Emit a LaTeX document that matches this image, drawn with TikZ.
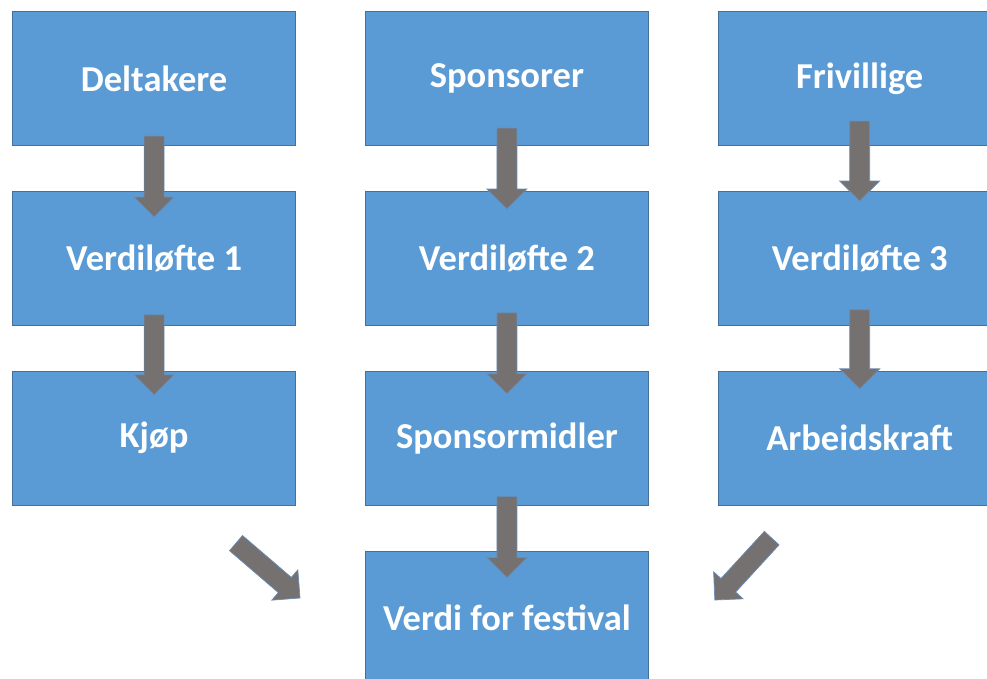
\documentclass[tikz,border=0pt]{standalone}
\usepackage{fontspec}
\setmainfont{Carlito}
\usetikzlibrary{matrix,calc}
\definecolor{boksblaa}{HTML}{5B9BD5}
\definecolor{bokskant}{HTML}{41719C}
\definecolor{pilgraa}{HTML}{767171}
\definecolor{pilkant}{HTML}{6A8DB5}
\tikzset{boks/.style={fill=boksblaa,draw=bokskant,line width=0.8pt,text=white,
        font=\bfseries\fontsize{36.5}{42}\selectfont,anchor=center,
        minimum width=283pt,minimum height=134pt,inner sep=0pt}}
\newcommand{\blokkpil}[2]{%
    \path (#1) coordinate (pil-a) (#2) coordinate (pil-b);
    \path ($(pil-b)!20pt!(pil-a)$) coordinate (pil-h);
    \filldraw[fill=pilgraa,draw=pilkant,line width=0.7pt,line join=miter]
        ($(pil-a)!10pt!90:(pil-b)$) -- ($(pil-h)!10pt!90:(pil-b)$) -- ($(pil-h)!20pt!90:(pil-b)$)
        -- (pil-b) -- ($(pil-h)!20pt!-90:(pil-b)$) -- ($(pil-h)!10pt!-90:(pil-b)$)
        -- ($(pil-a)!10pt!-90:(pil-b)$) -- cycle;
}
\begin{document}
\begin{tikzpicture}
            \useasboundingbox (0,0) rectangle (987pt,-678pt);
            \matrix (m) [matrix of nodes,nodes={boks},row sep=45pt,column sep=69pt,
                         inner sep=0pt,anchor=north west] at (12pt,-11pt)
            {
             Deltakere      &   Sponsorer            &   Frivillige     \\
             Verdiløfte 1   &   Verdiløfte 2         &   Verdiløfte 3   \\
             Kjøp           &   Sponsormidler        &   Arbeidskraft   \\
                            &   Verdi for festival   &                  \\
              };
            \blokkpil{$(m-1-1.south)+(0,10pt)$}{$(m-2-1.north)+(0,-26pt)$}
            \blokkpil{$(m-1-2.south)+(0,18pt)$}{$(m-2-2.north)+(0,-18pt)$}
            \blokkpil{$(m-1-3.south)+(0,25pt)$}{$(m-2-3.north)+(0,-10pt)$}
            \blokkpil{$(m-2-1.south)+(0,11pt)$}{$(m-3-1.north)+(0,-24pt)$}
            \blokkpil{$(m-2-2.south)+(0,13pt)$}{$(m-3-2.north)+(0,-23pt)$}
            \blokkpil{$(m-2-3.south)+(0,16pt)$}{$(m-3-3.north)+(0,-18pt)$}
            \blokkpil{$(m-3-2.south)+(0,9pt)$}{$(m-4-2.north)+(0,-27pt)$}

            % Skraa piler inn mot festivalen
            \coordinate (kjop-ut) at ($(m-3-1.south east)+(-60pt,-37.5pt)$);
            \coordinate (kraft-ut) at ($(m-3-3.south)+(-88pt,-32.5pt)$);
            \blokkpil{kjop-ut}{$(m-4-2.west)+(-65pt,20pt)$}
            \blokkpil{kraft-ut}{$(m-4-2.east)+(66pt,18pt)$}
        \end{tikzpicture}
\end{document}
